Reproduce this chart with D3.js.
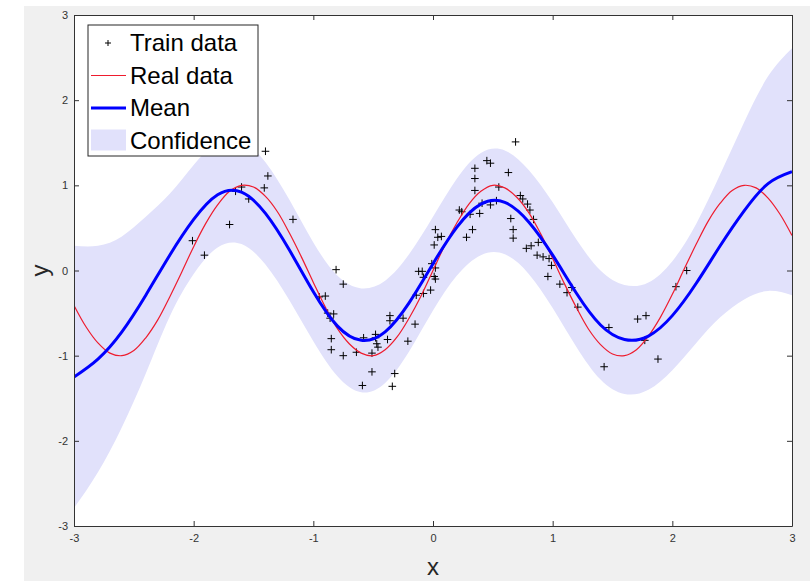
<!DOCTYPE html>
<html>
<head>
<meta charset="utf-8">
<script src="https://cdn.jsdelivr.net/npm/d3@7/dist/d3.min.js"></script>
<style>
  body { margin: 0; background: #fff; }
  text { font-family: "Liberation Sans", Arial, sans-serif; }
</style>
</head>
<body>
<svg id="chart" width="810" height="581"></svg>
<script>
// GP posterior, sampled on a grid
const gridX = [-3, -2.8, -2.6, -2.4, -2.2, -2, -1.8, -1.6, -1.4, -1.2, -1, -0.8, -0.6, -0.4, -0.2, 0,
               0.2, 0.4, 0.6, 0.8, 1, 1.2, 1.4, 1.6, 1.8, 2, 2.2, 2.4, 2.6, 2.8, 3];
const meanY = [-1.25, -1.04, -0.72, -0.29, 0.18, 0.60, 0.89, 0.92, 0.67, 0.24, -0.25, -0.65, -0.82, -0.72, -0.38, 0.08,
               0.51, 0.78, 0.80, 0.57, 0.18, -0.27, -0.64, -0.81, -0.77, -0.53, -0.15, 0.29, 0.70, 1.02, 1.16];
const upperY = [0.29, 0.29, 0.40, 0.63, 0.90, 1.24, 1.51, 1.53, 1.27, 0.83, 0.33, -0.06, -0.21, -0.12, 0.19, 0.63,
                1.08, 1.38, 1.41, 1.18, 0.80, 0.36, 0.00, -0.17, -0.14, 0.11, 0.55, 1.13, 1.74, 2.28, 2.61];
const lowerY = [-2.79, -2.37, -1.84, -1.21, -0.54, -0.04, 0.27, 0.31, 0.07, -0.35, -0.83, -1.24, -1.43, -1.32, -0.95, -0.47,
                -0.06, 0.18, 0.19, -0.04, -0.44, -0.90, -1.28, -1.45, -1.40, -1.17, -0.85, -0.55, -0.34, -0.24, -0.29];

// real curve
const realX = [-3, -2.9, -2.8, -2.7, -2.6, -2.5, -2.4, -2.3, -2.2, -2.1, -2, -1.9, -1.8, -1.7, -1.6, -1.5, -1.4, -1.3, -1.2, -1.1,
               -1, -0.9, -0.8, -0.7, -0.6, -0.5, -0.4, -0.3, -0.2, -0.1, 0, 0.1, 0.2, 0.3, 0.4, 0.5, 0.6, 0.7, 0.8, 0.9,
               1, 1.1, 1.2, 1.3, 1.4, 1.5, 1.6, 1.7, 1.8, 1.9, 2, 2.1, 2.2, 2.3, 2.4, 2.5, 2.6, 2.7, 2.8, 2.9, 3];
const realY = [-0.41, -0.66, -0.85, -0.97, -1.00, -0.94, -0.79, -0.58, -0.31, -0.02, 0.28, 0.55, 0.77, 0.93, 1.00, 0.98, 0.87, 0.69, 0.44, 0.16,
               -0.14, -0.43, -0.68, -0.86, -0.97, -1.00, -0.93, -0.78, -0.56, -0.30, 0.00, 0.30, 0.56, 0.78, 0.93, 1.00, 0.97, 0.86, 0.68, 0.43,
               0.14, -0.16, -0.44, -0.69, -0.87, -0.98, -1.00, -0.93, -0.77, -0.55, -0.28, 0.02, 0.31, 0.58, 0.79, 0.94, 1.00, 0.97, 0.85, 0.66, 0.41];

// training samples
const trainX = [-2.01, -1.91, -1.70, -1.65, -1.60, -1.54, -1.41, -1.38, -1.40, -1.17,
                -0.81, -0.75, -0.95, -0.90, -0.88, -0.83, -0.86, -0.85, -0.85, -0.75,
                -0.64, -0.58, -0.51, -0.48, -0.48, -0.47, -0.46, -0.38, -0.36, -0.36,
                -0.25, -0.15, -0.21, -0.51, -0.32, -0.59, -0.34, -0.14, -0.08, -0.02,
                -0.12, -0.09, -0.08, -0.01, 0.02, 0.01, 0.02, 0.02, 0.01, 0.04,
                0.07, 0.22, 0.24, 0.31, 0.39, 0.28, 0.33, 0.35, 0.35, 0.35,
                0.45, 0.48, 0.41, 0.48, 0.55, 0.53, 0.63, 0.69, 0.73, 0.75,
                0.79, 0.81, 0.84, 0.65, 0.67, 0.67, 0.78, 0.82, 0.88, 0.87,
                0.92, 0.97, 0.99, 0.96, 1.06, 1.12, 1.16, 1.21, 1.47, 1.43,
                1.71, 1.78, 1.77, 1.88, 2.03, 2.12];
const trainY = [0.35, 0.18, 0.54, 0.93, 0.98, 0.84, 0.97, 1.11, 1.40, 0.60,
                0.01, -0.16, -0.31, -0.30, -0.50, -0.51, -0.56, -0.80, -0.93, -1.00,
                -0.96, -0.79, -0.97, -0.75, -0.79, -0.86, -0.90, -0.81, -0.53, -0.59,
                -0.56, -0.63, -0.83, -1.19, -1.21, -1.35, -1.36, -0.29, -0.27, -0.23,
                -0.01, -0.01, -0.08, 0.08, 0.03, -0.07, -0.10, 0.48, 0.30, 0.39,
                0.40, 0.71, 0.69, 0.66, 0.67, 0.39, 0.48, 1.20, 1.08, 0.94,
                1.29, 1.26, 0.79, 0.77, 0.98, 0.82, 1.15, 1.51, 0.88, 0.84,
                0.78, 0.71, 0.60, 0.61, 0.48, 0.38, 0.26, 0.29, 0.33, 0.18,
                0.16, 0.14, 0.06, -0.07, -0.16, -0.26, -0.20, -0.43, -0.67, -1.13,
                -0.57, -0.53, -0.82, -1.04, -0.19, 0.00];

const tickValues = [-3, -2, -1, 0, 1, 2, 3];
const legendLabels = ["Train data", "Real data", "Mean", "Confidence"];

var width = 810,
    height = 581,
    plot = {left: 74, top: 15, right: 792, bottom: 526};

const svg = d3.select("#chart");

// figure background
svg.append("rect")
    .attr("x", 24).attr("y", 6)
    .attr("width", width - 24).attr("height", height - 6)
    .attr("fill", "#f0f0f0");

svg.append("rect")
    .attr("x", plot.left).attr("y", plot.top)
    .attr("width", plot.right - plot.left).attr("height", plot.bottom - plot.top)
    .attr("fill", "#fff");

const x = d3.scaleLinear().domain([-3, 3]).range([plot.left, plot.right]);
const y = d3.scaleLinear().domain([-3, 3]).range([plot.bottom, plot.top]);

svg.append("clipPath").attr("id", "clip")
    .append("rect")
    .attr("x", plot.left).attr("y", plot.top)
    .attr("width", plot.right - plot.left).attr("height", plot.bottom - plot.top);

const gPlot = svg.append("g").attr("clip-path", "url(#clip)");

const band = gridX.map((d, i) => ({x: d, lo: lowerY[i], hi: upperY[i], m: meanY[i]}));
const real = realX.map((d, i) => ({x: d, y: realY[i]}));
const train = trainX.map((d, i) => ({x: d, y: trainY[i]}));

// confidence band
gPlot.append("path")
    .datum(band)
    .attr("fill", "#e1e1fb")
    .attr("d", d3.area()
        .curve(d3.curveNatural)
        .x(d => x(d.x))
        .y0(d => y(d.lo))
        .y1(d => y(d.hi)));

// train data
gPlot.append("g")
    .selectAll("path")
    .data(train)
    .enter()
    .append("path")
    .attr("transform", d => `translate(${x(d.x)},${y(d.y)})`)
    .attr("d", "M-3.8,0H3.8M0,-3.8V3.8")
    .attr("stroke", "#000")
    .attr("stroke-width", 1);

// real data
gPlot.append("path")
    .datum(real)
    .attr("fill", "none")
    .attr("stroke", "#ee1c2e")
    .attr("stroke-width", 1.2)
    .attr("d", d3.line().curve(d3.curveCatmullRom).x(d => x(d.x)).y(d => y(d.y)));

// mean
gPlot.append("path")
    .datum(band)
    .attr("fill", "none")
    .attr("stroke", "#0000ff")
    .attr("stroke-width", 3)
    .attr("d", d3.line().curve(d3.curveNatural).x(d => x(d.x)).y(d => y(d.m)));

// axes, ticks pointing inward
const fmt = d => String(d);
const axisColor = "#333";

function styleAxis(g) {
    g.select(".domain").attr("stroke", axisColor).attr("stroke-width", 1);
    g.selectAll(".tick line").attr("stroke", axisColor);
    g.selectAll(".tick text")
        .attr("fill", "#333")
        .style("font-family", "'Liberation Sans', Arial, sans-serif")
        .style("font-size", "11px");
}

svg.append("g")
    .attr("transform", `translate(0,${plot.bottom})`)
    .call(d3.axisBottom(x).tickValues(tickValues).tickFormat(fmt).tickSizeInner(-5).tickSizeOuter(0).tickPadding(8))
    .call(styleAxis);

svg.append("g")
    .attr("transform", `translate(${plot.left},0)`)
    .call(d3.axisLeft(y).tickValues(tickValues).tickFormat(fmt).tickSizeInner(-5).tickSizeOuter(0).tickPadding(6))
    .call(styleAxis);

svg.append("g")
    .attr("transform", `translate(0,${plot.top})`)
    .call(d3.axisTop(x).tickValues(tickValues).tickFormat("").tickSizeInner(-5).tickSizeOuter(0))
    .call(styleAxis);

svg.append("g")
    .attr("transform", `translate(${plot.right},0)`)
    .call(d3.axisRight(y).tickValues(tickValues).tickFormat("").tickSizeInner(-5).tickSizeOuter(0))
    .call(styleAxis);

// axis labels
svg.append("text")
    .attr("x", (plot.left + plot.right) / 2)
    .attr("y", 575)
    .attr("text-anchor", "middle")
    .attr("fill", "#262626")
    .style("font-size", "24px")
    .text("x");

svg.append("text")
    .attr("transform", `translate(48,${(plot.top + plot.bottom) / 2}) rotate(-90)`)
    .attr("text-anchor", "middle")
    .attr("fill", "#262626")
    .style("font-size", "24px")
    .text("y");

// legend
const legend = svg.append("g").attr("transform", "translate(88,25)");

legend.append("rect")
    .attr("width", 170).attr("height", 131)
    .attr("fill", "#fff")
    .attr("stroke", "#262626")
    .attr("stroke-width", 1);

const rowH = 32.5;
const rows = legend.selectAll("g.item")
    .data(legendLabels)
    .enter()
    .append("g")
    .attr("class", "item")
    .attr("transform", (d, i) => `translate(0,${18 + i * rowH})`);

rows.append("text")
    .attr("x", 42)
    .attr("dy", "0.35em")
    .attr("fill", "#000")
    .style("font-size", "24px")
    .text(d => d);

rows.filter((d, i) => i === 0).append("path")
    .attr("d", "M17,0H23M20,-3V3")
    .attr("stroke", "#000");
rows.filter((d, i) => i === 1).append("line")
    .attr("x1", 3).attr("x2", 38)
    .attr("stroke", "#ee1c2e").attr("stroke-width", 1.2);
rows.filter((d, i) => i === 2).append("line")
    .attr("x1", 3).attr("x2", 38)
    .attr("stroke", "#0000ff").attr("stroke-width", 3);
rows.filter((d, i) => i === 3).append("rect")
    .attr("x", 3).attr("y", -11).attr("width", 35).attr("height", 21)
    .attr("fill", "#e1e1fb");
</script>
</body>
</html>
